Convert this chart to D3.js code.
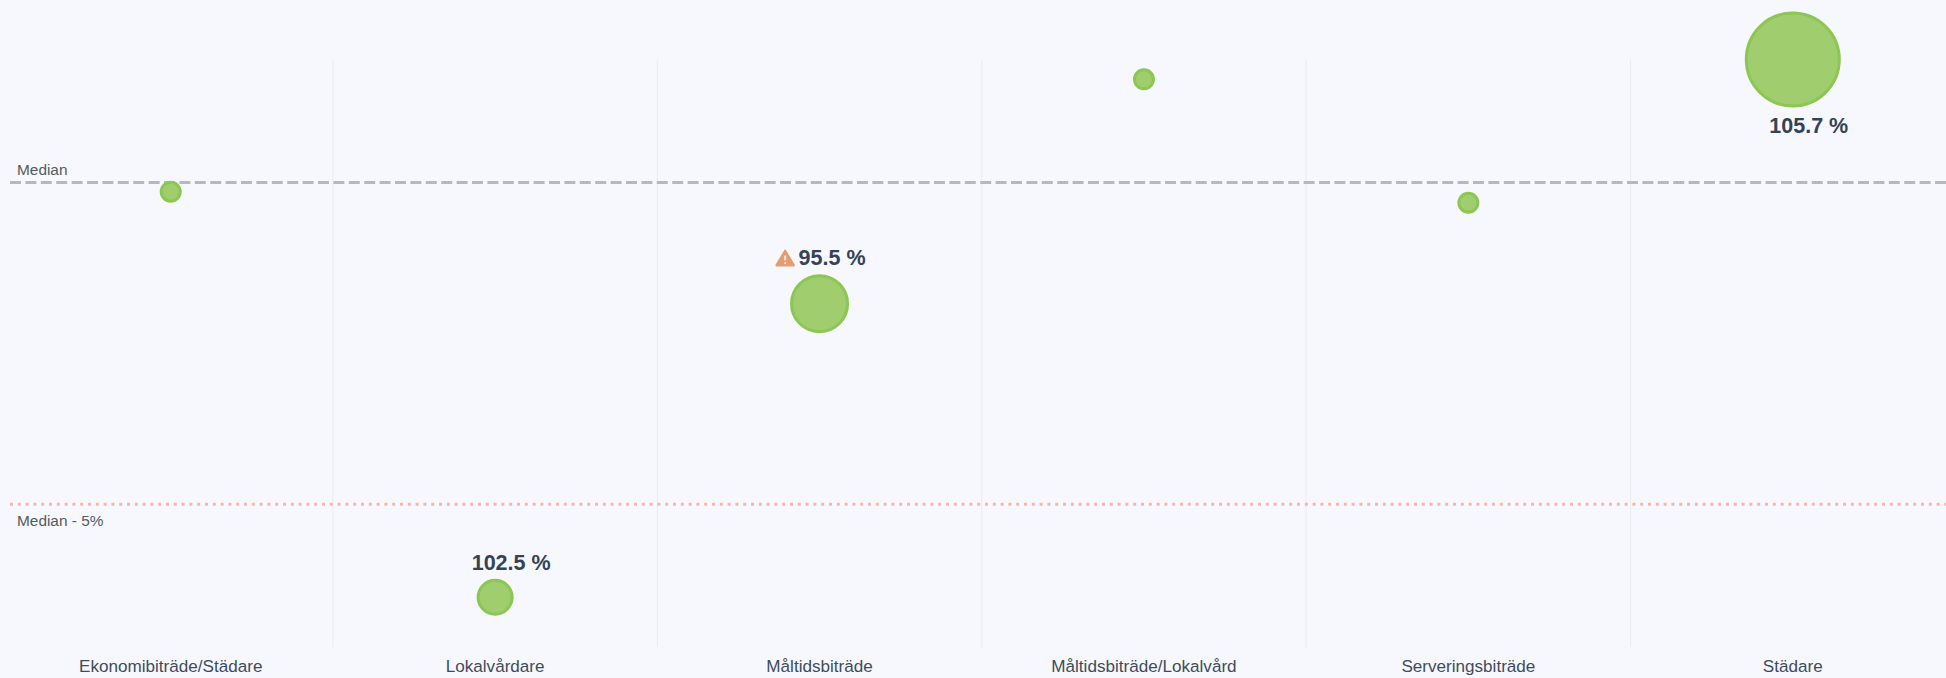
<!DOCTYPE html>
<html>
<head>
<meta charset="utf-8">
<script src="https://cdn.jsdelivr.net/npm/d3@7"></script>
<style>
  html, body { margin: 0; padding: 0; background: #f6f8fd; overflow: hidden; }
  text { font-family: "Liberation Sans", Arial, sans-serif; }
</style>
</head>
<body>
<div id="chart"></div>
<script>
var svgW = 1946;
var svgH = 678;

var categories = ["Ekonomibiträde/Städare", "Lokalvårdare", "Måltidsbiträde", "Måltidsbiträde/Lokalvård", "Serveringsbiträde", "Städare"];
// share of median (y position)
var yValues = [99.857, 93.556, 98.117, 101.603, 99.686, 101.911];
// bubble size
var sizes = [4.17, 13.4, 36.3, 4.17, 4.17, 100];
// shown labels, only some bubbles have one
var valueLabels = [null, "102.5 %", "95.5 %", null, null, "105.7 %"];
var warnings = [false, false, true, false, false, false];
var refLines = [
  { name: "Median", value: 100 },
  { name: "Median - 5%", value: 95 }
];

var plot = { left: 8.5, right: 1955, top: 60, bottom: 647 };

var svg = d3.select("#chart")
  .append("svg")
  .attr("width", svgW)
  .attr("height", svgH)
  .style("display", "block");

var x = d3.scaleBand()
  .domain(categories)
  .range([plot.left, plot.right]);

var y = d3.scaleLinear()
  .domain([95, 100])
  .range([504.3, 182.5]);

var r = d3.scaleSqrt()
  .domain([0, 100])
  .range([0, 46.5]);

// vertical separators between categories
svg.append("g")
  .selectAll("line")
  .data(categories.slice(1))
  .enter()
  .append("line")
  .attr("x1", d => x(d))
  .attr("x2", d => x(d))
  .attr("y1", plot.top)
  .attr("y2", plot.bottom)
  .attr("stroke", "#e9ebf0")
  .attr("stroke-width", 1);

var xAxis = svg.append("g")
  .attr("transform", `translate(0, ${plot.bottom})`)
  .call(d3.axisBottom(x).tickSize(0).tickPadding(13));
xAxis.select(".domain").remove();
xAxis.selectAll("text")
  .attr("font-size", 17.1)
  .attr("font-family", "Liberation Sans")
  .attr("fill", "#3f4b5b");

// reference lines
svg.append("line")
  .attr("x1", 10)
  .attr("x2", svgW)
  .attr("y1", y(refLines[0].value))
  .attr("y2", y(refLines[0].value))
  .attr("stroke", "#b8b8bc")
  .attr("stroke-width", 3)
  .attr("stroke-dasharray", "11 4.4");

svg.append("line")
  .attr("x1", 10)
  .attr("x2", svgW)
  .attr("y1", y(refLines[1].value))
  .attr("y2", y(refLines[1].value))
  .attr("stroke", "#fab5a3")
  .attr("stroke-width", 3)
  .attr("stroke-dasharray", "3 4.8");

svg.append("text")
  .attr("x", 17)
  .attr("y", y(refLines[0].value) - 7.5)
  .attr("font-size", 15.4)
  .attr("fill", "#555a60")
  .text(refLines[0].name);

svg.append("text")
  .attr("x", 17)
  .attr("y", y(refLines[1].value) + 21.7)
  .attr("font-size", 15.4)
  .attr("fill", "#555a60")
  .text(refLines[1].name);

var rows = categories.map((c, i) => ({
  cat: c, yv: yValues[i], size: sizes[i], label: valueLabels[i], warn: warnings[i]
}));

// bubbles
svg.append("g")
  .selectAll("circle")
  .data(rows)
  .enter()
  .append("circle")
  .attr("cx", d => x(d.cat) + x.bandwidth() / 2)
  .attr("cy", d => y(d.yv))
  .attr("r", d => r(d.size))
  .attr("fill", "#a0cd6e")
  .attr("stroke", "#8cc653")
  .attr("stroke-width", 3);

// value labels. the one for Städare sits below the bubble since it is at the top
var labelled = rows.filter(d => d.label);

svg.append("g")
  .selectAll("text")
  .data(labelled)
  .enter()
  .append("text")
  .attr("x", d => x(d.cat) + x.bandwidth() / 2 + (d.warn ? 12.5 : 16))
  .attr("y", d => d.yv > 100 ? y(d.yv) + r(d.size) + 26.7 : y(d.yv) - r(d.size) - 10.5)
  .attr("text-anchor", "middle")
  .attr("font-size", 21.5)
  .attr("font-weight", "bold")
  .attr("fill", "#344356")
  .text(d => d.label);

// warning triangle next to label
var warn = svg.append("g")
  .selectAll("g")
  .data(rows.filter(d => d.warn))
  .enter()
  .append("g")
  .attr("transform", d => `translate(${x(d.cat) + x.bandwidth() / 2 - 34.4}, ${y(d.yv) - r(d.size) - 17.7})`);

warn.append("path")
  .attr("d", "M0,-7.2 L8.7,7.4 L-8.7,7.4 Z")
  .attr("fill", "#e59c70")
  .attr("stroke", "#e59c70")
  .attr("stroke-width", 2.2)
  .attr("stroke-linejoin", "round");

warn.append("rect")
  .attr("x", -1)
  .attr("y", -2.5)
  .attr("width", 2)
  .attr("height", 5)
  .attr("fill", "#f6e2d6");

warn.append("circle")
  .attr("cx", 0)
  .attr("cy", 5.2)
  .attr("r", 1.1)
  .attr("fill", "#f6e2d6");
</script>
</body>
</html>
